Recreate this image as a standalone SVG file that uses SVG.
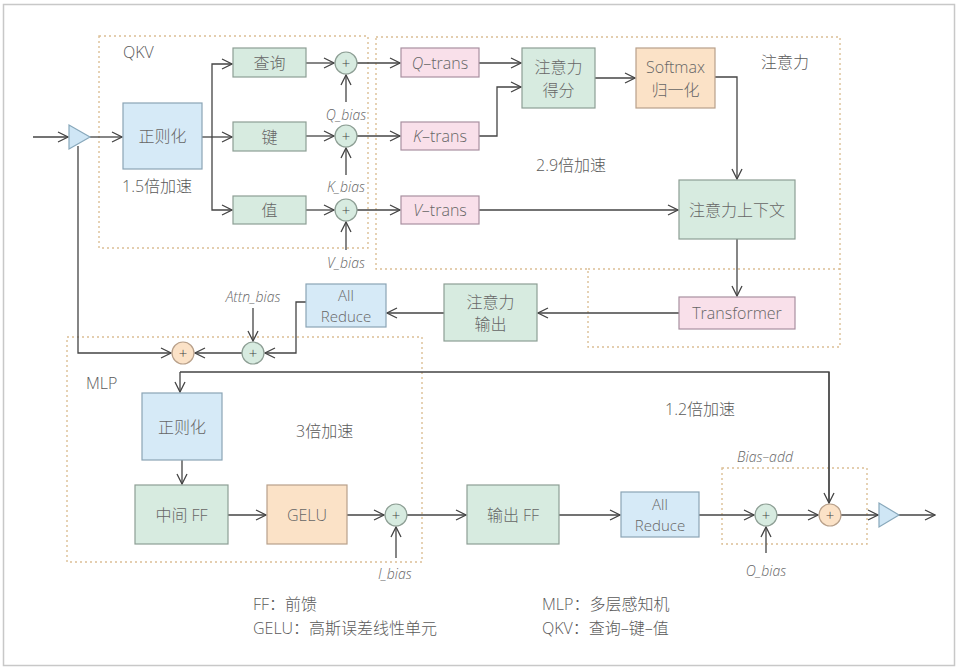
<svg xmlns="http://www.w3.org/2000/svg" width="958" height="670" viewBox="0 0 958 670">
<defs>
<marker id="arr" markerUnits="userSpaceOnUse" markerWidth="12" markerHeight="12" viewBox="0 0 12 12" refX="11" refY="6" orient="auto">
<path d="M1,1 L11,6 L1,11" fill="none" stroke="#444" stroke-width="1.3"/>
</marker>
<style>
text{font-family:"Open Sans","Noto Sans CJK SC",sans-serif;font-weight:300;fill:#666;}
.t{font-size:16px;text-anchor:middle;dominant-baseline:central;}
.t2{font-size:15px;text-anchor:middle;dominant-baseline:central;}
.lb{font-size:16px;fill:#5a5a5a;}
.it{font-size:14px;font-style:italic;text-anchor:middle;fill:#666;dominant-baseline:central;}
.grp{fill:none;stroke:#dcbf95;stroke-width:1.4;stroke-dasharray:2,3;}
.g{fill:#d7ebe0;stroke:#8d9e94;stroke-width:1.2;}
.b{fill:#d6eaf7;stroke:#8aa4b5;stroke-width:1.2;}
.p{fill:#f9e0ea;stroke:#a890a0;stroke-width:1.2;}
.o{fill:#fbe2c7;stroke:#b8a08a;stroke-width:1.2;}
.tri{fill:#cfe6f5;stroke:#88a8bb;stroke-width:1.2;}
.pl{font-size:15px;text-anchor:middle;dominant-baseline:central;fill:#444;}
#conn path{fill:none;stroke:#444;stroke-width:1.3;marker-end:url(#arr);}
#conn path.n{marker-end:none;}
</style>
</defs>
<rect x="0" y="0" width="958" height="670" fill="#fff"/>
<rect x="3.5" y="4.5" width="951" height="661" fill="none" stroke="#c8c8c8" stroke-width="1.5"/>

<g id="groups">
<rect class="grp" x="99" y="36" width="269" height="212"/>
<path class="grp" d="M376,37 H840 V347 H588 V269 H376 Z"/>
<line class="grp" x1="588" y1="269" x2="840" y2="269"/>
<rect class="grp" x="67" y="337" width="355" height="225"/>
<rect class="grp" x="722" y="468" width="145" height="76"/>
</g>

<g id="labels">
<text class="lb" x="123" y="58">QKV</text>
<text class="lb" x="122" y="192">1.5倍加速</text>
<text class="lb" x="761" y="68">注意力</text>
<text class="lb" x="536" y="171">2.9倍加速</text>
<text class="lb" x="86" y="389">MLP</text>
<text class="lb" x="296" y="437">3倍加速</text>
<text class="lb" x="665" y="415">1.2倍加速</text>
<text class="it" x="765" y="456">Bias–add</text>
<text class="it" x="346" y="114">Q_bias</text>
<text class="it" x="346" y="186">K_bias</text>
<text class="it" x="346" y="262">V_bias</text>
<text class="it" x="253" y="296">Attn_bias</text>
<text class="it" x="395" y="573">l_bias</text>
<text class="it" x="766" y="570">O_bias</text>
<text class="lb" x="253" y="610">FF：前馈</text>
<text class="lb" x="253" y="634">GELU：高斯误差线性单元</text>
<text class="lb" x="542" y="610">MLP：多层感知机</text>
<text class="lb" x="542" y="634">QKV：查询–键–值</text>
</g>

<g id="conn">
<path d="M33,137 H68"/>
<path d="M90,137 H122"/>
<path d="M202,137 H232"/>
<path d="M212,137 V64 H232"/>
<path d="M212,137 V210 H232"/>
<path d="M306,63 H334"/>
<path d="M306,136 H334"/>
<path d="M306,210 H334"/>
<path d="M346,102 V75"/>
<path d="M346,175 V148"/>
<path d="M346,250 V222"/>
<path d="M357,63 H400"/>
<path d="M357,136 H400"/>
<path d="M357,210 H400"/>
<path d="M479,63 H521"/>
<path d="M479,136 H497 V87 H521"/>
<path d="M595,78 H635"/>
<path d="M715,77 H737 V179"/>
<path d="M479,210 H678"/>
<path d="M737,239 V296"/>
<path d="M679,313 H538"/>
<path d="M444,313 H387"/>
<path d="M306,302 H296 V353 H265"/>
<path d="M253,308 V341"/>
<path d="M242,353 H195"/>
<path d="M78,146 V353 H171"/>
<path class="n" d="M180,372 H829 V503"/>
<path d="M829,372 V503"/>
<path d="M180,372 V392"/>
<path d="M182,460 V484"/>
<path d="M228,515 H266"/>
<path d="M347,515 H384"/>
<path d="M396,558 V527"/>
<path d="M407,515 H466"/>
<path d="M559,515 H620"/>
<path d="M699,515 H754"/>
<path d="M766,553 V527"/>
<path d="M777,515 H818"/>
<path d="M841,515 H878"/>
<path d="M898,515 H935"/>
</g>

<g id="in_tri"><polygon class="tri" points="69,125 69,149 90,137"/></g>
<g id="norm1"><rect class="b" x="123" y="103" width="79" height="66"/><text class="t" x="162.5" y="136">正则化</text></g>
<g id="query"><rect class="g" x="233" y="48" width="73" height="29"/><text class="t" x="269.5" y="62.5">查询</text></g>
<g id="key"><rect class="g" x="233" y="122" width="73" height="29"/><text class="t" x="269.5" y="136.5">键</text></g>
<g id="value"><rect class="g" x="233" y="196" width="73" height="28"/><text class="t" x="269.5" y="210">值</text></g>
<g id="plus_q"><circle class="g" cx="346" cy="63" r="11"/><text class="pl" x="346" y="63">+</text></g>
<g id="plus_k"><circle class="g" cx="346" cy="136" r="11"/><text class="pl" x="346" y="136">+</text></g>
<g id="plus_v"><circle class="g" cx="346" cy="210" r="11"/><text class="pl" x="346" y="210">+</text></g>
<g id="qtrans"><rect class="p" x="401" y="48" width="78" height="29"/><text class="t" x="440" y="62.5"><tspan font-style="italic">Q</tspan>–trans</text></g>
<g id="ktrans"><rect class="p" x="401" y="122" width="78" height="28"/><text class="t" x="440" y="136"><tspan font-style="italic">K</tspan>–trans</text></g>
<g id="vtrans"><rect class="p" x="401" y="196" width="78" height="28"/><text class="t" x="440" y="210"><tspan font-style="italic">V</tspan>–trans</text></g>
<g id="score"><rect class="g" x="522" y="48" width="73" height="60"/><text class="t" x="558.5" y="67">注意力</text><text class="t" x="558.5" y="90">得分</text></g>
<g id="softmax"><rect class="o" x="636" y="48" width="79" height="60"/><text class="t" x="675.5" y="67">Softmax</text><text class="t" x="675.5" y="90">归一化</text></g>
<g id="context"><rect class="g" x="679" y="180" width="116" height="59"/><text class="t" x="737" y="210">注意力上下文</text></g>
<g id="transformer"><rect class="p" x="679" y="297" width="116" height="32"/><text class="t" x="737" y="313">Transformer</text></g>
<g id="attn_out"><rect class="g" x="444" y="284" width="93" height="57"/><text class="t" x="490.5" y="302">注意力</text><text class="t" x="490.5" y="324">输出</text></g>
<g id="allreduce1"><rect class="b" x="306" y="284" width="80" height="43"/><text class="t2" x="346" y="295">All</text><text class="t2" x="346" y="316">Reduce</text></g>
<g id="plus_attn"><circle class="g" cx="253" cy="353" r="11"/><text class="pl" x="253" y="353">+</text></g>
<g id="plus_res1"><circle class="o" cx="183" cy="353" r="11"/><text class="pl" x="183" y="353">+</text></g>
<g id="norm2"><rect class="b" x="142" y="393" width="80" height="67"/><text class="t" x="182" y="427">正则化</text></g>
<g id="ff_mid"><rect class="g" x="135" y="485" width="93" height="59"/><text class="t" x="181.5" y="515">中间 FF</text></g>
<g id="gelu"><rect class="o" x="267" y="485" width="80" height="59"/><text class="t" x="307" y="515">GELU</text></g>
<g id="plus_l"><circle class="g" cx="396" cy="515" r="11"/><text class="pl" x="396" y="515">+</text></g>
<g id="ff_out"><rect class="g" x="467" y="485" width="92" height="59"/><text class="t" x="513" y="515">输出 FF</text></g>
<g id="allreduce2"><rect class="b" x="621" y="492" width="78" height="45"/><text class="t2" x="660" y="504">All</text><text class="t2" x="660" y="525">Reduce</text></g>
<g id="plus_o"><circle class="g" cx="766" cy="515" r="11"/><text class="pl" x="766" y="515">+</text></g>
<g id="plus_res2"><circle class="o" cx="830" cy="515" r="11"/><text class="pl" x="830" y="515">+</text></g>
<g id="out_tri"><polygon class="tri" points="879,503 879,527 899,515"/></g>
</svg>
